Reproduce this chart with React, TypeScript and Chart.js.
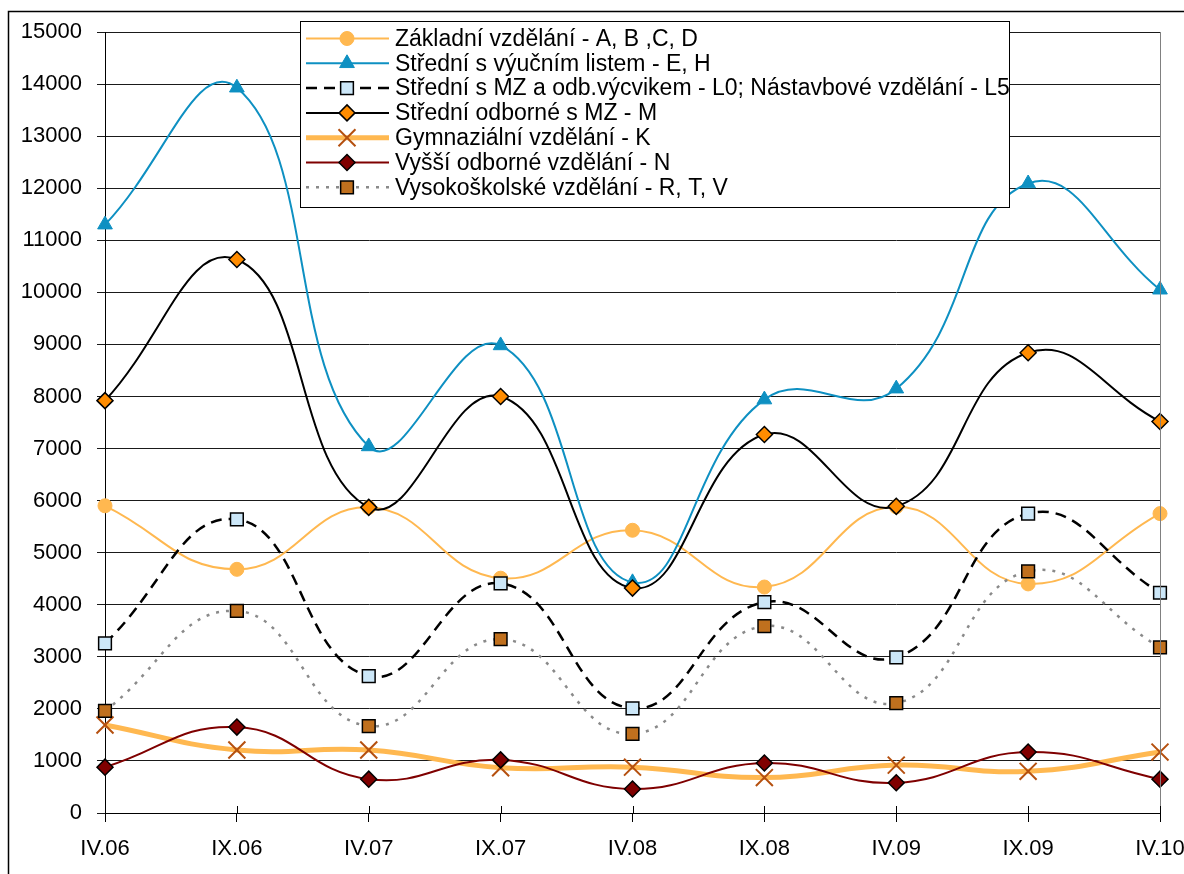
import React, { useEffect, useRef } from 'react';
import { Chart, registerables } from 'chart.js';

Chart.register(...registerables);

const categories = ['IV.06', 'IX.06', 'IV.07', 'IX.07', 'IV.08', 'IX.08', 'IV.09', 'IX.09', 'IV.10'];
const zakladni = [5900, 4680, 5870, 4510, 5430, 4340, 5880, 4400, 5750];
const stredniVyucni = [11300, 13930, 7040, 8980, 4430, 7940, 8150, 12090, 10050];
const stredniMzOdb = [3260, 5640, 2630, 4410, 2010, 4050, 2990, 5750, 4230];
const stredniOdborne = [7920, 10630, 5870, 8000, 4320, 7270, 5890, 8840, 7520];
const gymnazialni = [1690, 1210, 1210, 870, 880, 680, 920, 800, 1170];
const vyssiOdborne = [880, 1650, 650, 1020, 460, 960, 580, 1170, 650];
const vysokoskolske = [1960, 3880, 1670, 3340, 1520, 3590, 2110, 4640, 3180];

const seriesLabels = [
  'Základní vzdělání - A, B ,C, D',
  'Střední s výučním listem - E, H',
  'Střední s MZ a odb.výcvikem - L0; Nástavbové vzdělání - L5',
  'Střední odborné s MZ - M',
  'Gymnaziální vzdělání - K',
  'Vyšší odborné vzdělání - N',
  'Vysokoškolské vzdělání - R, T, V',
];

const Y_MIN = 0;
const Y_MAX = 15000;
const Y_STEP = 1000;

const FONT = "'Liberation Sans', Arial, sans-serif";

type Style = {
  line: string;
  width: number;
  dash: number[];
  point: string;
  radius: number;
  fill: string;
  border: string;
  pbw: number;
};

const styles: Style[] = [
  { line: '#FFB850', width: 2, dash: [], point: 'circle', radius: 7, fill: '#FFB850', border: '#FFB850', pbw: 1 },
  { line: '#0E90C2', width: 2, dash: [], point: 'triangle', radius: 8.5, fill: '#0E90C2', border: '#0E90C2', pbw: 1 },
  { line: '#000000', width: 2.5, dash: [11, 7], point: 'rect', radius: 9, fill: '#CCE7F8', border: '#000000', pbw: 1.5 },
  { line: '#000000', width: 2, dash: [], point: 'rectRot', radius: 8, fill: '#FF8C00', border: '#000000', pbw: 1.5 },
  { line: '#FFB850', width: 5, dash: [], point: 'crossRot', radius: 12, fill: '#B5500F', border: '#B5500F', pbw: 2 },
  { line: '#7F0000', width: 2, dash: [], point: 'rectRot', radius: 8, fill: '#800000', border: '#000000', pbw: 1.5 },
  { line: '#8A8A8A', width: 2.5, dash: [3, 7], point: 'rect', radius: 9, fill: '#C0701E', border: '#000000', pbw: 1.5 },
];

const seriesData = [zakladni, stredniVyucni, stredniMzOdb, stredniOdborne, gymnazialni, vyssiOdborne, vysokoskolske];

function drawMarker(ctx: CanvasRenderingContext2D, s: Style, x: number, y: number) {
  const r = s.radius;
  ctx.save();
  ctx.setLineDash([]);
  ctx.lineWidth = s.pbw;
  ctx.strokeStyle = s.border;
  ctx.fillStyle = s.fill;
  ctx.beginPath();
  if (s.point === 'circle') {
    ctx.arc(x, y, r, 0, Math.PI * 2);
    ctx.fill();
    ctx.stroke();
  } else if (s.point === 'triangle') {
    for (let k = 0; k < 3; k++) {
      const a = (k * 2 * Math.PI) / 3;
      const px = x + Math.sin(a) * r;
      const py = y - Math.cos(a) * r;
      if (k === 0) ctx.moveTo(px, py);
      else ctx.lineTo(px, py);
    }
    ctx.closePath();
    ctx.fill();
    ctx.stroke();
  } else if (s.point === 'rect') {
    const h = Math.SQRT1_2 * r;
    ctx.rect(x - h, y - h, 2 * h, 2 * h);
    ctx.fill();
    ctx.stroke();
  } else if (s.point === 'rectRot') {
    ctx.moveTo(x, y - r);
    ctx.lineTo(x + r, y);
    ctx.lineTo(x, y + r);
    ctx.lineTo(x - r, y);
    ctx.closePath();
    ctx.fill();
    ctx.stroke();
  } else if (s.point === 'crossRot') {
    const d = Math.SQRT1_2 * r;
    ctx.moveTo(x - d, y - d);
    ctx.lineTo(x + d, y + d);
    ctx.moveTo(x + d, y - d);
    ctx.lineTo(x - d, y + d);
    ctx.stroke();
  }
  ctx.restore();
}

const framePlugin = {
  id: 'frame',
  beforeDraw(chart: any) {
    const ctx = chart.ctx as CanvasRenderingContext2D;
    ctx.save();
    ctx.fillStyle = '#ffffff';
    ctx.fillRect(0, 0, chart.width, chart.height);
    ctx.restore();
  },
  afterDraw(chart: any) {
    const ctx = chart.ctx as CanvasRenderingContext2D;
    const area = chart.chartArea;
    const xs = chart.scales.x;
    ctx.save();
    ctx.strokeStyle = '#808080';
    ctx.lineWidth = 1;
    ctx.beginPath();
    ctx.moveTo(Math.round(area.right) + 0.5, area.top);
    ctx.lineTo(Math.round(area.right) + 0.5, area.bottom);
    ctx.stroke();
    ctx.strokeStyle = '#000000';
    ctx.beginPath();
    for (let i = 0; i < categories.length; i++) {
      const px = Math.round(xs.getPixelForValue(i)) + 0.5;
      ctx.moveTo(px, area.bottom - 7);
      ctx.lineTo(px, area.bottom);
    }
    ctx.stroke();
    ctx.strokeStyle = '#000000';
    ctx.lineWidth = 1.5;
    ctx.strokeRect(8.5, 11.5, chart.width + 50, chart.height + 50);
    ctx.restore();
  },
};

const legendPlugin = {
  id: 'boxLegend',
  afterDatasetsDraw(chart: any) {
    const ctx = chart.ctx as CanvasRenderingContext2D;
    const left = 300.5;
    const top = 21.5;
    const right = 1009.5;
    const bottom = 207.5;
    ctx.save();
    ctx.fillStyle = '#ffffff';
    ctx.fillRect(left, top, right - left, bottom - top);
    ctx.strokeStyle = '#000000';
    ctx.lineWidth = 1;
    ctx.strokeRect(left, top, right - left, bottom - top);
    const rowH = 24.8;
    for (let i = 0; i < seriesLabels.length; i++) {
      const s = styles[i];
      const cy = 38.5 + i * rowH;
      ctx.save();
      ctx.strokeStyle = s.line;
      ctx.lineWidth = s.width;
      ctx.setLineDash(s.dash);
      ctx.beginPath();
      ctx.moveTo(306, cy);
      ctx.lineTo(389, cy);
      ctx.stroke();
      ctx.restore();
      drawMarker(ctx, s, 347, cy);
      ctx.fillStyle = '#000000';
      ctx.font = `23px ${FONT}`;
      ctx.textAlign = 'left';
      ctx.textBaseline = 'middle';
      ctx.fillText(seriesLabels[i], 395, cy + 1);
    }
    ctx.restore();
  },
};

export default function App() {
  const canvasRef = useRef<HTMLCanvasElement | null>(null);

  useEffect(() => {
    if (!canvasRef.current) return;
    const datasets = seriesData.map((d, i) => {
      const s = styles[i];
      return {
        label: seriesLabels[i],
        data: d,
        borderColor: s.line,
        borderWidth: s.width,
        borderDash: s.dash,
        backgroundColor: s.fill,
        pointStyle: s.point,
        pointRadius: s.radius,
        pointHoverRadius: s.radius,
        pointBackgroundColor: s.fill,
        pointBorderColor: s.border,
        pointBorderWidth: s.pbw,
        tension: 0.45,
        fill: false,
        order: 10 - i,
      };
    });
    const chart = new Chart(canvasRef.current, {
      type: 'line',
      data: { labels: categories, datasets: datasets as any },
      plugins: [framePlugin, legendPlugin],
      options: {
        responsive: false,
        animation: false,
        devicePixelRatio: 1,
        layout: { padding: { top: 32, right: 24, left: 0, bottom: 0 } },
        plugins: {
          legend: { display: false },
          tooltip: { enabled: false },
          title: { display: false },
        },
        scales: {
          x: {
            type: 'category',
            offset: false,
            afterFit: (scale: any) => {
              scale.height = 61;
              scale.paddingLeft = 0;
              scale.paddingRight = 0;
            },
            grid: {
              display: true,
              drawOnChartArea: false,
              drawTicks: true,
              tickLength: 9,
              color: '#000000',
              lineWidth: 1,
            },
            border: { display: true, color: '#000000', width: 1 },
            ticks: {
              color: '#000000',
              font: { family: FONT, size: 22 },
              padding: 14,
              maxRotation: 0,
              autoSkip: false,
            },
          },
          y: {
            min: Y_MIN,
            max: Y_MAX,
            afterFit: (scale: any) => {
              scale.width = 105;
              scale.paddingTop = 0;
              scale.paddingBottom = 0;
            },
            grid: {
              display: true,
              drawOnChartArea: true,
              drawTicks: true,
              tickLength: 8,
              color: '#1a1a1a',
              lineWidth: 1,
            },
            border: { display: true, color: '#000000', width: 1 },
            ticks: {
              stepSize: Y_STEP,
              color: '#000000',
              font: { family: FONT, size: 22 },
              padding: 15,
              callback: (v: any) => String(v),
            },
          },
        },
      },
    });
    return () => chart.destroy();
  }, []);

  return (
    <div style={{ position: 'absolute', left: 0, top: 0, width: 1184, height: 874, background: '#fff' }}>
      <canvas ref={canvasRef} width={1184} height={874} style={{ display: 'block' }} />
    </div>
  );
}
